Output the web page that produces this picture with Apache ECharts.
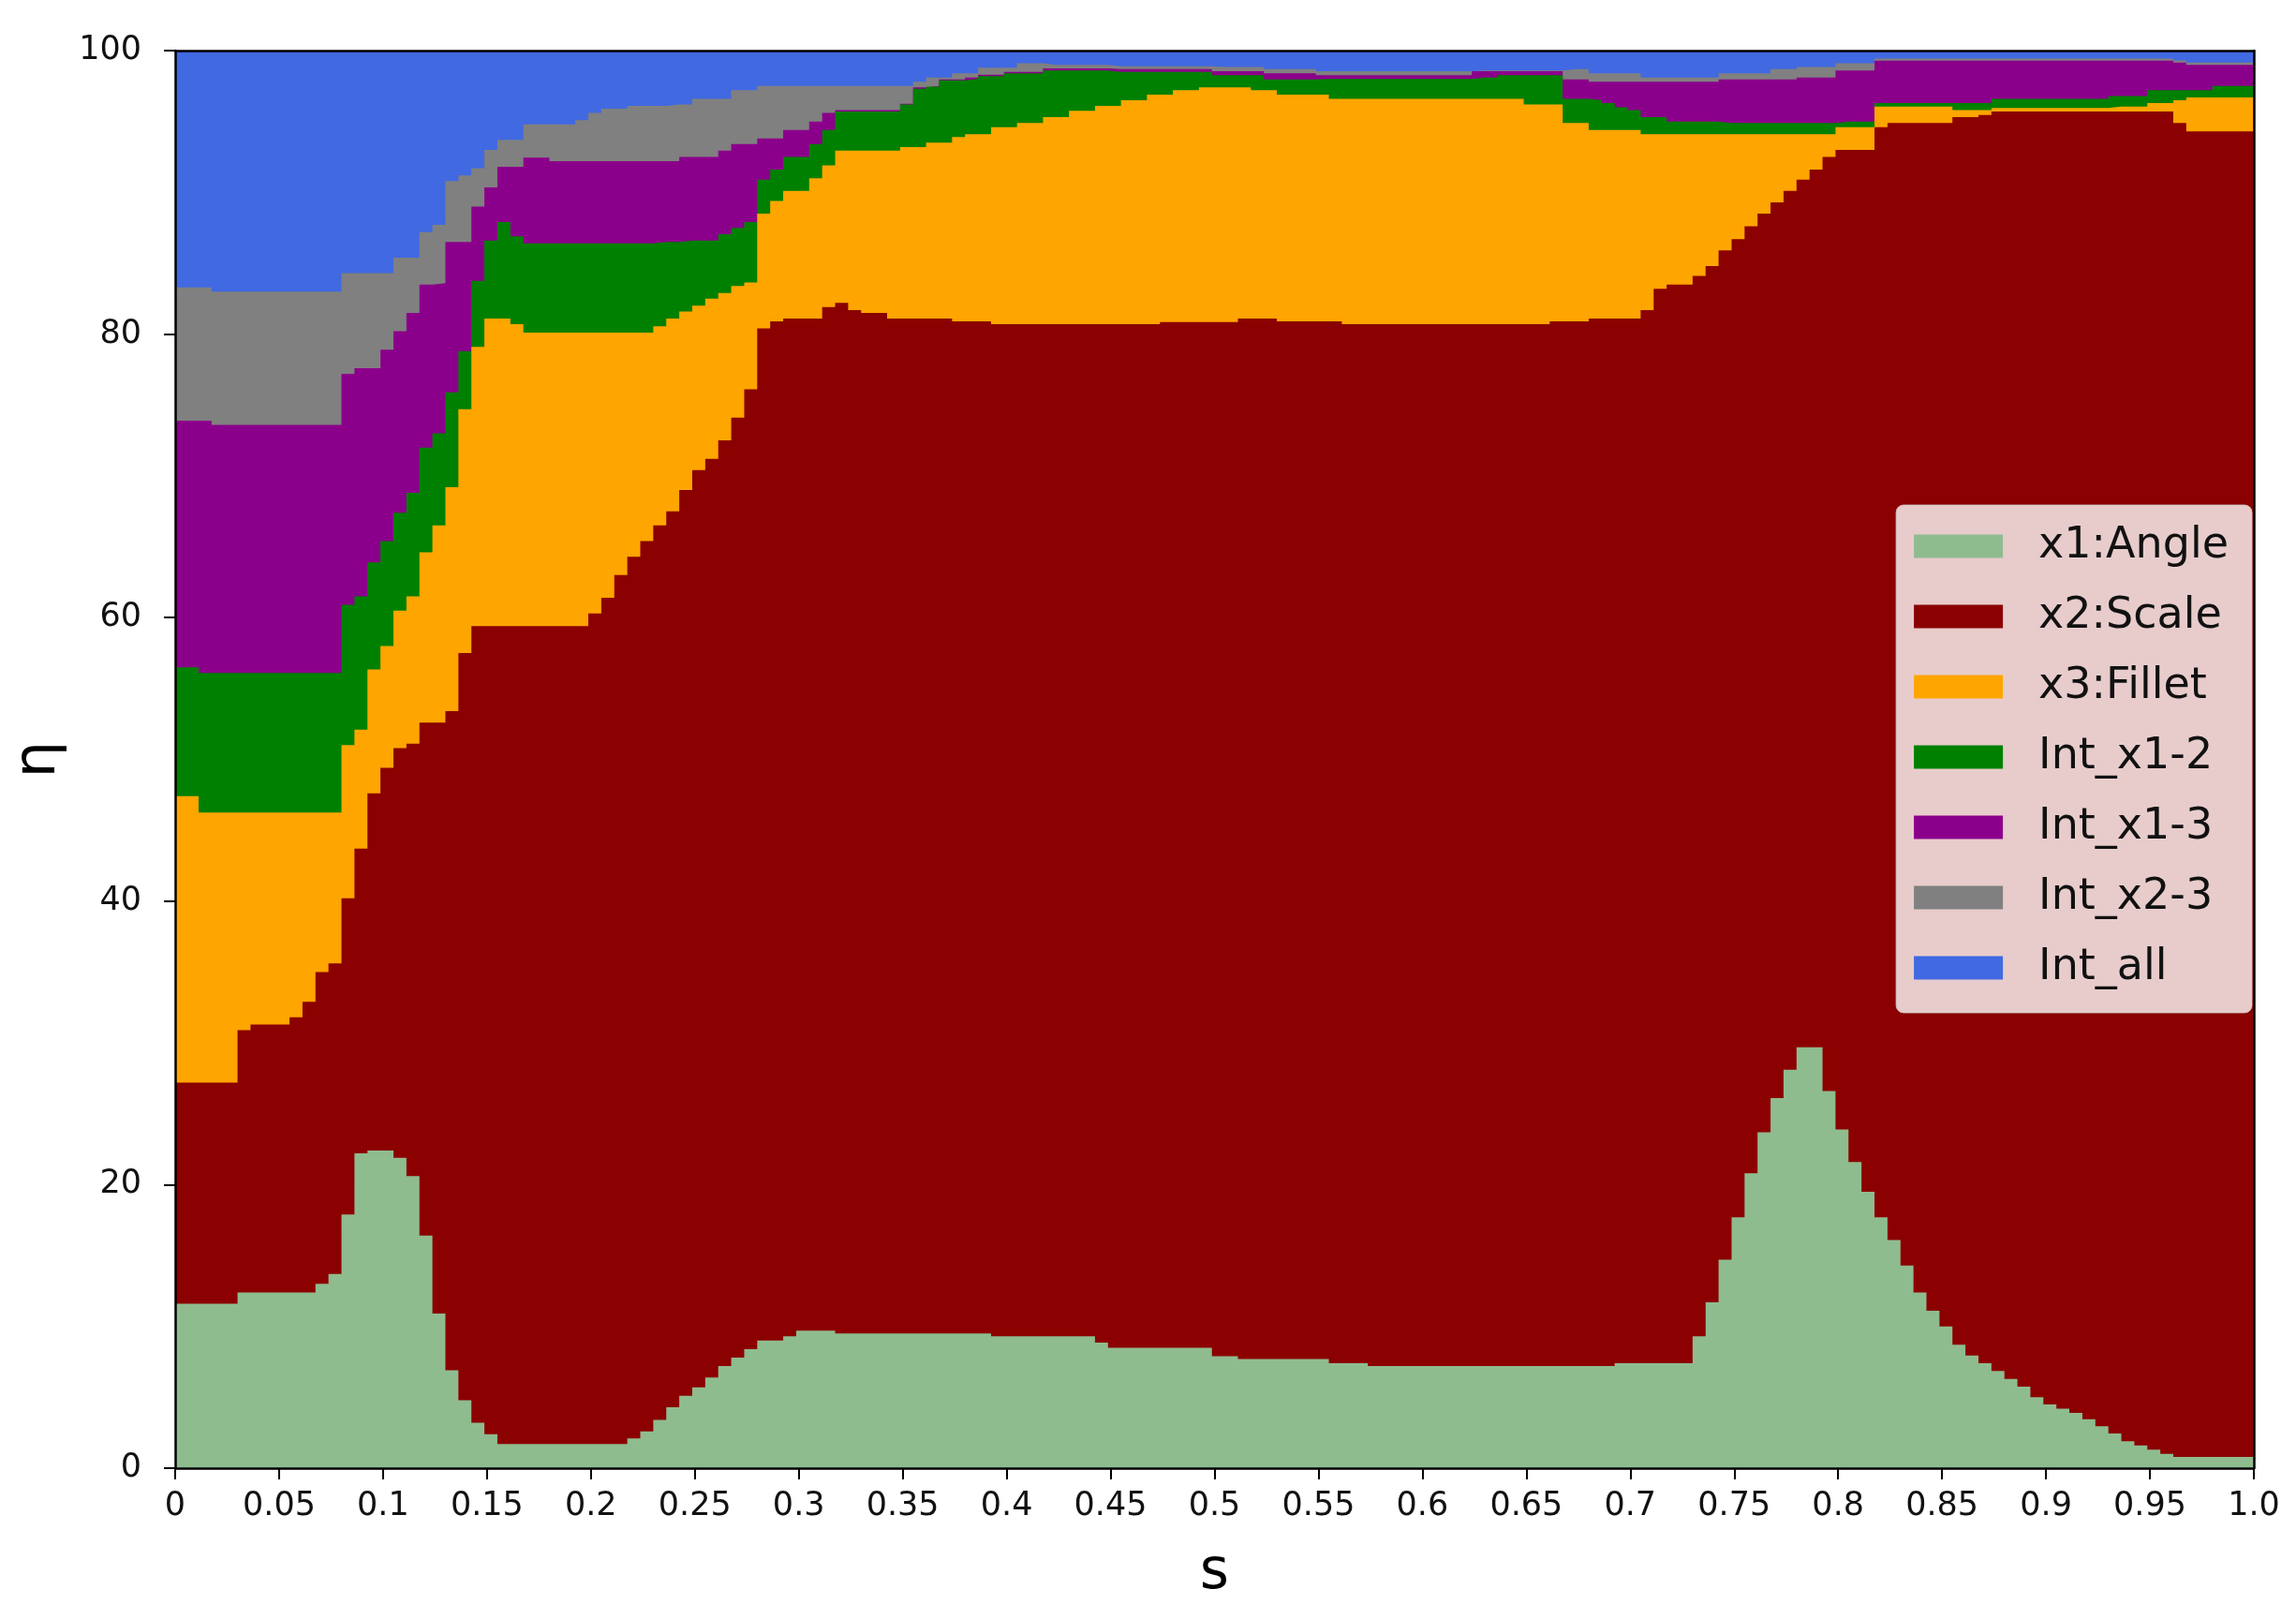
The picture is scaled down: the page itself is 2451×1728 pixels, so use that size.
<!DOCTYPE html>
<html>
<head>
<meta charset="utf-8">
<script src="https://cdn.jsdelivr.net/npm/echarts@6/dist/echarts.min.js"></script>
<style>
html,body{margin:0;padding:0;background:#ffffff;}
#chart{width:2451px;height:1728px;}
</style>
</head>
<body>
<div id="chart"></div>
<script>
// ---- series names & colours ----
const seriesNames = ['x1:Angle', 'x2:Scale', 'x3:Fillet', 'Int_x1-2', 'Int_x1-3', 'Int_x2-3', 'Int_all'];
const seriesColors = ['#8FBC8F', '#8B0000', '#FFA500', '#008000', '#8B008B', '#808080', '#4169E1'];

// ---- tick steps ----
const xTickStep = 0.05;
const yTickStep = 20;

// ---- data: upper edge (cumulative eta, %) of each stacked layer, one value per step of s ----
// 161 steps; step j covers s in [sEdge[j], sEdge[j+1]]
const topAngle = [
  11.6, 11.6, 11.6, 11.6, 11.6, 12.4, 12.4, 12.4, 12.4, 12.4,
  12.4, 13.0, 13.7, 17.9, 22.2, 22.4, 22.4, 21.9, 20.6, 16.4,
  10.9, 6.9, 4.8, 3.2, 2.4, 1.7, 1.7, 1.7, 1.7, 1.7,
  1.7, 1.7, 1.7, 1.7, 1.7, 2.1, 2.6, 3.4, 4.3, 5.1,
  5.7, 6.4, 7.2, 7.8, 8.4, 9.0, 9.0, 9.3, 9.7, 9.7,
  9.7, 9.5, 9.5, 9.5, 9.5, 9.5, 9.5, 9.5, 9.5, 9.5,
  9.5, 9.5, 9.5, 9.3, 9.3, 9.3, 9.3, 9.3, 9.3, 9.3,
  9.3, 8.85, 8.5, 8.5, 8.5, 8.5, 8.5, 8.5, 8.5, 8.5,
  7.9, 7.9, 7.7, 7.7, 7.7, 7.7, 7.7, 7.7, 7.7, 7.4,
  7.4, 7.4, 7.2, 7.2, 7.2, 7.2, 7.2, 7.2, 7.2, 7.2,
  7.2, 7.2, 7.2, 7.2, 7.2, 7.2, 7.2, 7.2, 7.2, 7.2,
  7.2, 7.4, 7.4, 7.4, 7.4, 7.4, 7.4, 9.3, 11.7, 14.7,
  17.7, 20.8, 23.7, 26.1, 28.1, 29.7, 29.7, 26.6, 23.9, 21.6,
  19.5, 17.7, 16.1, 14.3, 12.4, 11.1, 10.0, 8.7, 7.95, 7.4,
  6.85, 6.3, 5.75, 5.0, 4.5, 4.2, 3.9, 3.45, 2.95, 2.45,
  1.9, 1.6, 1.3, 1.0, 0.8, 0.8, 0.8, 0.8, 0.8, 0.8,
  0.8
];
const topScale = [
  27.2, 27.2, 27.2, 27.2, 27.2, 30.9, 31.3, 31.3, 31.3, 31.8,
  32.9, 35.0, 35.6, 40.2, 43.7, 47.6, 49.4, 50.8, 51.1, 52.6,
  52.6, 53.4, 57.5, 59.4, 59.4, 59.4, 59.4, 59.4, 59.4, 59.4,
  59.4, 59.4, 60.3, 61.4, 63.0, 64.3, 65.4, 66.5, 67.5, 69.0,
  70.4, 71.2, 72.5, 74.1, 76.1, 80.4, 80.9, 81.1, 81.1, 81.1,
  81.9, 82.2, 81.7, 81.5, 81.5, 81.1, 81.1, 81.1, 81.1, 81.1,
  80.9, 80.9, 80.9, 80.7, 80.7, 80.7, 80.7, 80.7, 80.7, 80.7,
  80.7, 80.7, 80.7, 80.7, 80.7, 80.7, 80.85, 80.85, 80.85, 80.85,
  80.85, 80.85, 81.1, 81.1, 81.1, 80.9, 80.9, 80.9, 80.9, 80.9,
  80.7, 80.7, 80.7, 80.7, 80.7, 80.7, 80.7, 80.7, 80.7, 80.7,
  80.7, 80.7, 80.7, 80.7, 80.7, 80.7, 80.9, 80.9, 80.9, 81.1,
  81.1, 81.1, 81.1, 81.7, 83.2, 83.5, 83.5, 84.1, 84.8, 85.9,
  86.7, 87.6, 88.5, 89.3, 90.1, 90.9, 91.6, 92.5, 93.0, 93.0,
  93.0, 94.6, 94.9, 94.9, 94.9, 94.9, 94.9, 95.3, 95.3, 95.45,
  95.7, 95.7, 95.7, 95.7, 95.7, 95.7, 95.7, 95.7, 95.7, 95.7,
  95.7, 95.7, 95.7, 95.7, 94.9, 94.3, 94.3, 94.3, 94.3, 94.3,
  94.3
];
const topFillet = [
  47.4, 47.4, 46.25, 46.25, 46.25, 46.25, 46.25, 46.25, 46.25, 46.25,
  46.25, 46.25, 46.25, 51.0, 52.1, 56.35, 58.0, 60.5, 61.5, 64.6,
  66.5, 69.2, 74.7, 79.1, 81.1, 81.1, 80.7, 80.1, 80.1, 80.1,
  80.1, 80.1, 80.1, 80.1, 80.1, 80.1, 80.1, 80.55, 81.1, 81.6,
  82.0, 82.5, 82.9, 83.4, 83.65, 88.5, 89.4, 90.1, 90.1, 91.0,
  91.9, 92.95, 92.95, 92.95, 92.95, 92.95, 93.2, 93.2, 93.5, 93.5,
  93.9, 94.1, 94.1, 94.6, 94.6, 94.9, 94.9, 95.3, 95.3, 95.75,
  95.75, 96.1, 96.1, 96.5, 96.5, 96.9, 96.9, 97.2, 97.2, 97.4,
  97.4, 97.4, 97.4, 97.2, 97.2, 96.9, 96.9, 96.9, 96.9, 96.6,
  96.6, 96.6, 96.6, 96.6, 96.6, 96.6, 96.6, 96.6, 96.6, 96.6,
  96.6, 96.6, 96.6, 96.6, 96.2, 96.2, 96.2, 94.9, 94.9, 94.4,
  94.4, 94.4, 94.4, 94.1, 94.1, 94.1, 94.1, 94.1, 94.1, 94.1,
  94.1, 94.1, 94.1, 94.1, 94.1, 94.1, 94.1, 94.1, 94.6, 94.6,
  94.6, 96.05, 96.05, 96.05, 96.05, 96.05, 96.05, 95.8, 95.8, 95.8,
  95.96, 95.96, 95.96, 95.96, 95.96, 95.96, 95.96, 95.96, 95.96, 96.05,
  96.05, 96.05, 96.3, 96.3, 96.5, 96.7, 96.7, 96.7, 96.7, 96.7,
  96.7
];
const topX12 = [
  56.5, 56.5, 56.1, 56.1, 56.1, 56.1, 56.1, 56.1, 56.1, 56.1,
  56.1, 56.1, 56.1, 60.9, 61.5, 63.9, 65.4, 67.4, 68.8, 72.0,
  73.0, 75.9, 78.8, 83.75, 86.6, 87.9, 86.9, 86.4, 86.4, 86.4,
  86.4, 86.4, 86.4, 86.4, 86.4, 86.4, 86.4, 86.5, 86.5, 86.6,
  86.6, 86.6, 87.05, 87.5, 87.9, 90.9, 91.6, 92.5, 92.5, 93.4,
  94.4, 95.7, 95.7, 95.7, 95.7, 95.7, 96.2, 97.3, 97.45, 97.9,
  97.9, 98.0, 98.2, 98.2, 98.4, 98.4, 98.4, 98.6, 98.6, 98.6,
  98.6, 98.6, 98.5, 98.5, 98.5, 98.5, 98.5, 98.5, 98.5, 98.5,
  98.26, 98.26, 98.26, 98.26, 97.96, 97.96, 97.96, 97.96, 98.0, 98.0,
  98.0, 98.0, 98.0, 98.0, 98.0, 98.0, 98.0, 98.0, 98.0, 98.0,
  98.1, 98.1, 98.26, 98.26, 98.26, 98.26, 98.26, 96.6, 96.6, 96.5,
  96.3, 96.0, 95.8, 95.3, 95.3, 95.0, 95.0, 95.0, 95.0, 94.9,
  94.9, 94.9, 94.9, 94.9, 94.9, 94.9, 94.9, 94.9, 95.0, 95.0,
  95.0, 96.3, 96.3, 96.3, 96.3, 96.3, 96.3, 96.3, 96.3, 96.3,
  96.6, 96.6, 96.6, 96.6, 96.6, 96.6, 96.6, 96.6, 96.6, 96.8,
  96.8, 96.8, 97.2, 97.2, 97.2, 97.2, 97.2, 97.5, 97.5, 97.5,
  97.5
];
const topX13 = [
  73.9, 73.9, 73.9, 73.6, 73.6, 73.6, 73.6, 73.6, 73.6, 73.6,
  73.6, 73.6, 73.6, 77.2, 77.6, 77.6, 78.9, 80.2, 81.5, 83.5,
  83.6, 86.5, 86.5, 89.0, 90.35, 91.8, 91.8, 92.45, 92.45, 92.2,
  92.2, 92.2, 92.2, 92.2, 92.2, 92.2, 92.2, 92.2, 92.2, 92.5,
  92.5, 92.5, 92.95, 93.4, 93.4, 93.8, 93.8, 94.4, 94.4, 95.0,
  95.6, 95.8, 95.8, 95.8, 95.8, 95.8, 96.25, 97.4, 97.5, 97.96,
  97.96, 98.1, 98.3, 98.3, 98.5, 98.5, 98.5, 98.75, 98.75, 98.75,
  98.75, 98.75, 98.7, 98.7, 98.7, 98.7, 98.7, 98.7, 98.7, 98.7,
  98.55, 98.55, 98.55, 98.55, 98.4, 98.4, 98.4, 98.4, 98.26, 98.26,
  98.26, 98.26, 98.26, 98.26, 98.26, 98.26, 98.26, 98.26, 98.26, 98.26,
  98.55, 98.55, 98.55, 98.55, 98.55, 98.55, 98.55, 97.96, 97.96, 97.8,
  97.8, 97.8, 97.8, 97.8, 97.8, 97.8, 97.8, 97.8, 97.8, 97.96,
  97.96, 97.96, 97.96, 97.96, 97.96, 98.1, 98.1, 98.1, 98.6, 98.6,
  98.6, 99.29, 99.29, 99.29, 99.29, 99.29, 99.29, 99.29, 99.29, 99.29,
  99.29, 99.29, 99.29, 99.29, 99.29, 99.29, 99.29, 99.29, 99.29, 99.29,
  99.29, 99.29, 99.29, 99.29, 99.15, 99.0, 99.0, 99.0, 99.0, 99.0,
  99.0
];
const topX23 = [
  83.3, 83.3, 83.3, 83.0, 83.0, 83.0, 83.0, 83.0, 83.0, 83.0,
  83.0, 83.0, 83.0, 84.3, 84.3, 84.3, 84.3, 85.4, 85.4, 87.2,
  87.7, 90.8, 91.2, 91.7, 93.0, 93.7, 93.7, 94.8, 94.8, 94.8,
  94.8, 95.1, 95.6, 95.9, 95.9, 96.1, 96.1, 96.1, 96.2, 96.2,
  96.6, 96.6, 96.6, 97.2, 97.2, 97.5, 97.5, 97.5, 97.5, 97.5,
  97.5, 97.5, 97.5, 97.5, 97.5, 97.5, 97.5, 97.8, 98.1, 98.1,
  98.4, 98.4, 98.8, 98.8, 98.8, 99.1, 99.1, 99.0, 99.0, 99.0,
  99.0, 99.0, 98.9, 98.9, 98.9, 98.9, 98.9, 98.9, 98.9, 98.9,
  98.85, 98.85, 98.85, 98.85, 98.7, 98.7, 98.7, 98.7, 98.55, 98.55,
  98.55, 98.55, 98.55, 98.55, 98.55, 98.55, 98.55, 98.55, 98.55, 98.55,
  98.6, 98.6, 98.6, 98.6, 98.6, 98.6, 98.6, 98.7, 98.7, 98.4,
  98.4, 98.4, 98.4, 98.1, 98.1, 98.1, 98.1, 98.1, 98.1, 98.4,
  98.4, 98.4, 98.4, 98.7, 98.7, 98.85, 98.85, 98.85, 99.1, 99.1,
  99.1, 99.44, 99.44, 99.44, 99.44, 99.44, 99.44, 99.44, 99.44, 99.44,
  99.44, 99.44, 99.44, 99.44, 99.44, 99.44, 99.44, 99.44, 99.44, 99.44,
  99.44, 99.44, 99.44, 99.44, 99.3, 99.15, 99.15, 99.15, 99.15, 99.15,
  99.15
];
const totalEta = 100; // all layers together always reach 100 %

// ---- build ----
const nSteps = topAngle.length;
const layerTops = [topAngle, topScale, topFillet, topX12, topX13, topX23, topAngle.map(() => totalEta)];
layerTops.forEach((a, k) => { if (a.length !== nSteps) throw new Error('length mismatch in layer ' + k + ': ' + a.length); });

// s positions where each step starts (steps are 1/160 wide, offset as in the source figure)
const sEdge = [];
for (let j = 0; j < nSteps; j++) sEdge.push(j === 0 ? 0 : (j - 0.2) / 160);
sEdge.push(1);

const FONT = 'DejaVu Sans';
// Each layer is filled from 0 up to its cumulative upper edge; the layers are painted
// from the top one (Int_all) down to the bottom one (x1:Angle), so each visible band
// is exactly the stacked contribution of its series.
const series = [];
for (let k = seriesNames.length - 1; k >= 0; k--) {
  const tops = layerTops[k];
  const data = tops.map((v, j) => [sEdge[j], v]);
  data.push([1, tops[tops.length - 1]]);
  series.push({
    name: seriesNames[k],
    type: 'line',
    step: 'end',
    symbol: 'none',
    showSymbol: false,
    silent: true,
    color: seriesColors[k],
    itemStyle: { color: seriesColors[k] },
    lineStyle: { width: 0, opacity: 0 },
    areaStyle: { color: seriesColors[k], opacity: 1, origin: 'start' },
    data: data,
    z: 2
  });
}

const axisCommon = {
  axisLine: { show: true, onZero: false, lineStyle: { color: '#000', width: 2.5 } },
  splitLine: { show: false },
  z: 10
};

const option = {
  animation: false,
  backgroundColor: '#ffffff',
  grid: { left: 187, right: 45, top: 54, bottom: 161, containLabel: false },
  xAxis: [
    Object.assign({}, axisCommon, {
      type: 'value', min: 0, max: 1, interval: xTickStep, position: 'bottom',
      name: 's', nameLocation: 'middle', nameGap: 82,
      nameTextStyle: { fontSize: 60, fontFamily: FONT, color: '#000' },
      axisTick: { show: true, inside: false, length: 12, lineStyle: { color: '#000', width: 2 } },
      axisLabel: {
        fontSize: 35, fontFamily: FONT, color: '#111', margin: 23,
        formatter: v => (Math.abs(v - 1) < 1e-9 ? '1.0' : String(parseFloat(v.toFixed(2))))
      }
    }),
    Object.assign({}, axisCommon, {
      type: 'value', min: 0, max: 1, position: 'top',
      axisTick: { show: false }, axisLabel: { show: false }
    })
  ],
  yAxis: [
    Object.assign({}, axisCommon, {
      type: 'value', min: 0, max: 100, interval: yTickStep, position: 'left',
      name: 'η', nameLocation: 'middle', nameGap: 114,
      nameTextStyle: { fontSize: 62, fontFamily: FONT, color: '#000' },
      axisTick: { show: true, inside: false, length: 12, lineStyle: { color: '#000', width: 2 } },
      axisLabel: { fontSize: 35, fontFamily: FONT, color: '#111', margin: 36 }
    }),
    Object.assign({}, axisCommon, {
      type: 'value', min: 0, max: 100, position: 'right',
      axisTick: { show: false }, axisLabel: { show: false }
    })
  ],
  legend: {
    orient: 'vertical',
    right: 47,
    top: 539,
    icon: 'rect',
    itemWidth: 95,
    itemHeight: 25,
    itemGap: 29,
    selectedMode: false,
    backgroundColor: 'rgba(255,255,255,0.8)',
    borderColor: 'rgba(204,204,204,0.8)',
    borderWidth: 1,
    borderRadius: 8,
    padding: [21, 25, 25, 19],
    textStyle: { fontSize: 46, fontFamily: FONT, color: '#111', lineHeight: 40, padding: [0, 0, 0, 33] },
    data: seriesNames,
    z: 20
  },
  series: series
};

const chart = echarts.init(document.getElementById('chart'), null, { renderer: 'canvas' });
chart.setOption(option);
</script>
</body>
</html>
